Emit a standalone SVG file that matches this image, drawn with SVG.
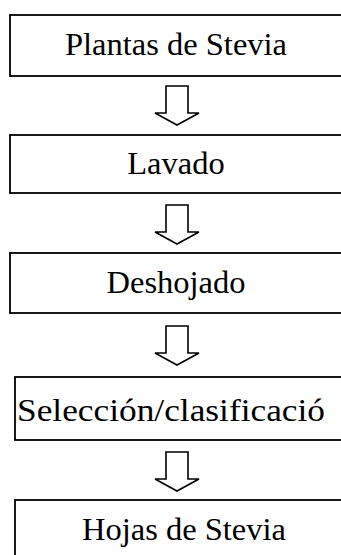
<svg xmlns="http://www.w3.org/2000/svg" width="341" height="555" viewBox="0 0 341 555">
<style>
.box{fill:#fff;stroke:#000;stroke-width:1.8}
.lbl{font-family:"Liberation Serif","Times New Roman",serif;font-size:32.5px;fill:#000;text-anchor:middle}
.arr{fill:#fff;stroke:#000;stroke-width:1.6;stroke-linejoin:miter}
</style>
<rect width="341" height="555" fill="#fff"/>
<defs>
<path id="blk" d="M-11,0 H11 V27 H22 L0,39 L-22,27 H-11 Z"/>
</defs>
<g id="connectors">
<use href="#blk" class="arr" transform="translate(177,86)"/>
<use href="#blk" class="arr" transform="translate(177,205)"/>
<use href="#blk" class="arr" transform="translate(177,326)"/>
<use href="#blk" class="arr" transform="translate(177,452)"/>
</g>
<g id="n1"><rect class="box" x="10" y="15" width="345" height="61"/><text class="lbl" x="176" y="55">Plantas de Stevia</text></g>
<g id="n2"><rect class="box" x="10" y="135" width="345" height="58"/><text class="lbl" x="176" y="174">Lavado</text></g>
<g id="n3"><rect class="box" x="10" y="253" width="345" height="60"/><text class="lbl" x="176" y="293">Deshojado</text></g>
<g id="n4"><rect class="box" x="15" y="377" width="345" height="63"/><text class="lbl" x="171" y="421" textLength="308" lengthAdjust="spacingAndGlyphs">Selección/clasificació</text></g>
<g id="n5"><rect class="box" x="15" y="500" width="345" height="70"/><text class="lbl" x="184" y="540">Hojas de Stevia</text></g>
</svg>
